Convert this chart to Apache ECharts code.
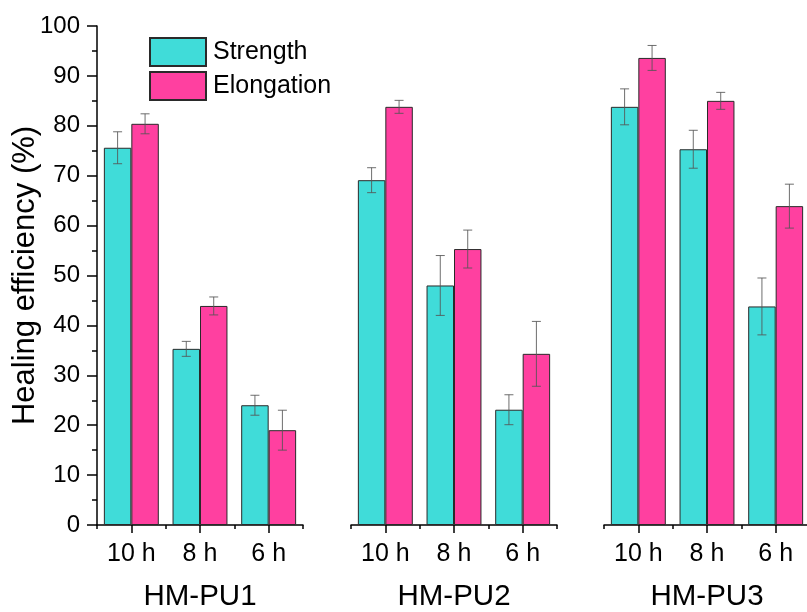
<!DOCTYPE html>
<html>
<head>
<meta charset="utf-8">
<script src="https://cdn.jsdelivr.net/npm/echarts@6/dist/echarts.min.js"></script>
<style>html,body{margin:0;padding:0;background:#fff}#c{width:807px;height:612px}</style>
</head>
<body>
<div id="c"></div>
<script>
var categories = ['10 h', '8 h', '6 h'];
var groups = ['HM-PU1', 'HM-PU2', 'HM-PU3'];
var yTicks = [0, 10, 20, 30, 40, 50, 60, 70, 80, 90, 100];

var strength1 = [75.6, 35.3, 24.0];
var strengthErr1 = [3.2, 1.5, 2.0];
var elongation1 = [80.4, 43.9, 19.0];
var elongationErr1 = [2.0, 1.8, 4.0];

var strength2 = [69.1, 48.0, 23.1];
var strengthErr2 = [2.5, 6.0, 3.0];
var elongation2 = [83.8, 55.3, 34.3];
var elongationErr2 = [1.3, 3.8, 6.5];

var strength3 = [83.8, 75.3, 43.8];
var strengthErr3 = [3.6, 3.8, 5.7];
var elongation3 = [93.6, 85.0, 63.9];
var elongationErr3 = [2.5, 1.7, 4.4];

var TEAL = '#40DCD9';
var PINK = '#FF40A0';
var FONT = 'Liberation Sans, Arial, sans-serif';

var strengths = [strength1, strength2, strength3];
var strengthErrs = [strengthErr1, strengthErr2, strengthErr3];
var elongations = [elongation1, elongation2, elongation3];
var elongationErrs = [elongationErr1, elongationErr2, elongationErr3];

var gridLefts = [97, 351, 604];
var grids = [], xAxes = [], yAxes = [], series = [];

function errSeries(gi, vals, errs, side) {
  return {
    type: 'custom',
    xAxisIndex: gi * 2,
    yAxisIndex: gi,
    z: 5,
    silent: true,
    clip: false,
    encode: { x: 0, y: 1 },
    data: vals.map(function (v, i) { return [i, v, errs[i]]; }),
    renderItem: function (params, api) {
      var c = api.value(0), v = api.value(1), e = api.value(2);
      var band = api.size([1, 0])[0];
      var p = api.coord([c, v]);
      var cx = p[0] + side * band * 0.2;
      var hi = api.coord([c, v + e])[1];
      var lo = api.coord([c, v - e])[1];
      var st = { stroke: '#555', lineWidth: 1, opacity: 0.85 };
      var hw = 4.5;
      return {
        type: 'group',
        children: [
          { type: 'line', shape: { x1: cx, y1: hi, x2: cx, y2: lo }, style: st },
          { type: 'line', shape: { x1: cx - hw, y1: hi, x2: cx + hw, y2: hi }, style: st },
          { type: 'line', shape: { x1: cx - hw, y1: lo, x2: cx + hw, y2: lo }, style: st }
        ]
      };
    }
  };
}

for (var g = 0; g < 3; g++) {
  grids.push({ left: gridLefts[g], width: 206, top: 26, height: 499, containLabel: false, outerBoundsMode: 'none' });
  xAxes.push({
    type: 'category', gridIndex: g, data: categories,
    name: groups[g], nameLocation: 'middle', nameGap: 57, nameMoveOverlap: false,
    nameTextStyle: { fontFamily: FONT, fontSize: 29.5, color: '#000' },
    axisLine: { show: true, lineStyle: { color: '#000', width: 1.5 } },
    axisTick: { show: true, alignWithLabel: true, length: 8, lineStyle: { color: '#000', width: 1.5 } },
    axisLabel: { fontFamily: FONT, fontSize: 25, color: '#000', margin: 17 },
    splitLine: { show: false }
  });
  xAxes.push({
    type: 'category', gridIndex: g, data: categories, position: 'bottom',
    axisLine: { show: false },
    axisTick: { show: true, length: 4, lineStyle: { color: '#000', width: 1.5 } },
    axisLabel: { show: false },
    splitLine: { show: false }
  });
  yAxes.push({
    type: 'value', gridIndex: g, min: yTicks[0], max: yTicks[yTicks.length - 1], interval: 10,
    show: g === 0,
    name: g === 0 ? 'Healing efficiency (%)' : '',
    nameLocation: 'middle', nameGap: 56, nameRotate: 90, nameMoveOverlap: false,
    nameTextStyle: { fontFamily: FONT, fontSize: 31, color: '#000' },
    axisLine: { show: true, lineStyle: { color: '#000', width: 1.5 } },
    axisTick: { show: true, length: 10, lineStyle: { color: '#000', width: 1.5 } },
    minorTick: { show: true, splitNumber: 2, length: 5, lineStyle: { color: '#000', width: 1.5 } },
    axisLabel: { fontFamily: FONT, fontSize: 24, color: '#000', margin: 17 },
    splitLine: { show: false }
  });
  series.push({
    name: 'Strength', type: 'bar', xAxisIndex: g * 2, yAxisIndex: g,
    data: strengths[g], barGap: '0%', barCategoryGap: '20%',
    itemStyle: { color: TEAL, borderColor: '#2a2a2a', borderWidth: 1 }
  });
  series.push({
    name: 'Elongation', type: 'bar', xAxisIndex: g * 2, yAxisIndex: g,
    data: elongations[g], barGap: '0%', barCategoryGap: '20%',
    itemStyle: { color: PINK, borderColor: '#2a2a2a', borderWidth: 1 }
  });
  series.push(errSeries(g, strengths[g], strengthErrs[g], -1));
  series.push(errSeries(g, elongations[g], elongationErrs[g], 1));
}

var chart = echarts.init(document.getElementById('c'), null, { renderer: 'canvas' });
chart.setOption({
  animation: false,
  backgroundColor: '#fff',
  grid: grids,
  xAxis: xAxes,
  yAxis: yAxes,
  legend: {
    data: ['Strength', 'Elongation'],
    orient: 'vertical', left: 149, top: 37,
    itemWidth: 56, itemHeight: 28, itemGap: 4,
    icon: 'rect',
    textStyle: { fontFamily: FONT, fontSize: 25, color: '#000', padding: [0, 0, 0, 2] },
    padding: 0
  },
  series: series
});
</script>
</body>
</html>
